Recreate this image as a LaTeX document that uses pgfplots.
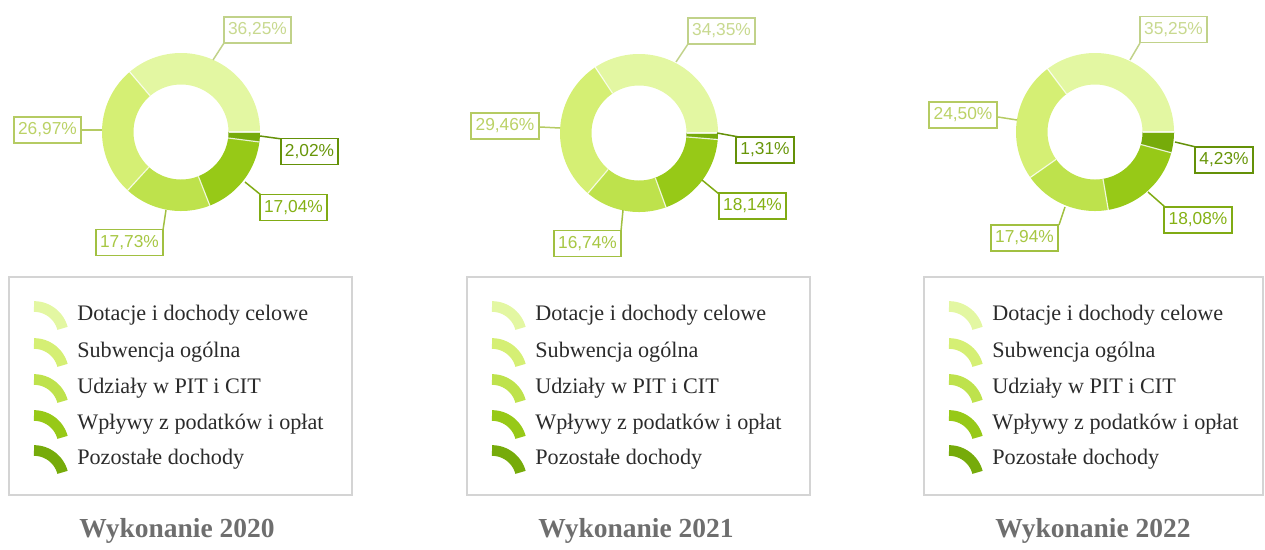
\documentclass[border=0pt]{standalone}
\usepackage{pgfplots}
\pgfplotsset{compat=1.18}
\usepackage{fontspec}
\setmainfont{Liberation Serif}
\newfontfamily\lblfont{Liberation Sans}
\definecolor{c1}{HTML}{E3F7A2}
\definecolor{c2}{HTML}{D5EF74}
\definecolor{c3}{HTML}{BEE24C}
\definecolor{c4}{HTML}{97C917}
\definecolor{c5}{HTML}{76AB0A}
\definecolor{legborder}{HTML}{D4D4D4}
\definecolor{legtext}{HTML}{2B2B2B}
\definecolor{titlecol}{HTML}{6E6E6E}

% one ring segment: cx, cy, start angle, end angle, colour
\newcommand{\seg}[5]{\edef\tmp{\noexpand\addplot[draw=#5, line width=18.9pt, line cap=butt, domain=#3:#4, samples=60, no markers, forget plot] ({#1+63.25*cos(x)},{#2-63.25*sin(x)});}\tmp}
\newcommand{\sepl}[3]{\edef\tmp{\noexpand\addplot[draw=white, line width=0.7pt, opacity=0.8, domain=47.5:79, samples=2, no markers, forget plot] ({#1+x*cos(#3)},{#2-x*sin(#3)});}\tmp}
% donut: cx, cy, then the five shares in percent
\newcommand{\donut}[7]{%
  \pgfmathsetmacro{\aA}{3.6*#3}%
  \pgfmathsetmacro{\aB}{\aA+3.6*#4}%
  \pgfmathsetmacro{\aC}{\aB+3.6*#5}%
  \pgfmathsetmacro{\aD}{\aC+3.6*#6}%
  \seg{#1}{#2}{0}{\aA}{c1}%
  \seg{#1}{#2}{\aA}{\aB}{c2}%
  \seg{#1}{#2}{\aB}{\aC}{c3}%
  \seg{#1}{#2}{\aC}{\aD}{c4}%
  \seg{#1}{#2}{\aD}{360}{c5}%
  \sepl{#1}{#2}{0}\sepl{#1}{#2}{\aA}\sepl{#1}{#2}{\aB}\sepl{#1}{#2}{\aC}\sepl{#1}{#2}{\aD}%
}
% legend icon: x of left end, y of text row, colour
\newcommand{\licon}[3]{\addplot[draw=#3, line width=6.4pt, line cap=butt, domain=15:90, samples=30, no markers, forget plot] ({#1+29.5*cos(x)},{#2+21-29.5*sin(x)});}
% legend block: left x of box, right x of box, icon x, text x
\newcommand{\legendblock}[4]{%
  \draw[legborder, line width=1.1pt] (axis cs:#1,277) rectangle (axis cs:#2,495);
  \licon{#3}{315}{c1}\licon{#3}{352}{c2}\licon{#3}{388}{c3}\licon{#3}{424}{c4}\licon{#3}{459}{c5}%
  \node[anchor=west, text=legtext, inner sep=0pt, font=\fontsize{13.3}{15}\selectfont] at (axis cs:#4,315) {Dotacje i dochody celowe};
  \node[anchor=west, text=legtext, inner sep=0pt, font=\fontsize{13.3}{15}\selectfont] at (axis cs:#4,352) {Subwencja ogólna};
  \node[anchor=west, text=legtext, inner sep=0pt, font=\fontsize{13.3}{15}\selectfont] at (axis cs:#4,388) {Udziały w PIT i CIT};
  \node[anchor=west, text=legtext, inner sep=0pt, font=\fontsize{13.3}{15}\selectfont] at (axis cs:#4,424) {Wpływy z podatków i opłat};
  \node[anchor=west, text=legtext, inner sep=0pt, font=\fontsize{13.3}{15}\selectfont] at (axis cs:#4,459) {Pozostałe dochody};
}
\tikzset{lbl/.style={draw=#1!85!black, text=#1!88!black, fill=white, line width=1.1pt, inner xsep=2.6pt, inner ysep=0pt, minimum height=15.6pt, font=\lblfont\fontsize{10.4}{12}\selectfont},
  ldr/.style={draw=#1!85!black, line width=0.9pt}}

\begin{document}
\begin{tikzpicture}
\begin{axis}[x=0.6pt, y=0.6pt, xmin=0, xmax=1265, ymin=0, ymax=544, y dir=reverse,
  hide axis, clip=false, scale only axis]
\path (axis cs:0,0) rectangle (axis cs:1265,544);
% ---- 2020 ----
\donut{181}{132}{36.25}{26.97}{17.73}{17.04}{2.02}
\draw[ldr=c1] (axis cs:213,60) -- (axis cs:224,43);
\node[lbl=c1] at (axis cs:257.5,30) {36,25\%};
\draw[ldr=c2] (axis cs:82,130) -- (axis cs:102,130);
\node[lbl=c2] at (axis cs:47.5,130) {26,97\%};
\draw[ldr=c5] (axis cs:260,136) -- (axis cs:282,139);
\node[lbl=c5] at (axis cs:309.5,151.5) {2,02\%};
\draw[ldr=c4] (axis cs:245,182) -- (axis cs:261,195);
\node[lbl=c4] at (axis cs:293.5,207.5) {17,04\%};
\draw[ldr=c3] (axis cs:166,210) -- (axis cs:163,230);
\node[lbl=c3] at (axis cs:129.5,242.5) {17,73\%};
\legendblock{9}{352}{34}{77}
\node[text=titlecol, font=\fontsize{16.5}{18}\selectfont\bfseries] at (axis cs:177,531) {Wykonanie 2020};
% ---- 2021 ----
\donut{639}{133}{34.35}{29.46}{16.74}{18.14}{1.31}
\draw[ldr=c1] (axis cs:676,62) -- (axis cs:688,44);
\node[lbl=c1] at (axis cs:721.5,31) {34,35\%};
\draw[ldr=c2] (axis cs:540,127) -- (axis cs:560,128);
\node[lbl=c2] at (axis cs:505,126) {29,46\%};
\draw[ldr=c5] (axis cs:717,133) -- (axis cs:739,137);
\node[lbl=c5] at (axis cs:765,150) {1,31\%};
\draw[ldr=c4] (axis cs:702,180) -- (axis cs:719,194);
\node[lbl=c4] at (axis cs:752.5,206) {18,14\%};
\draw[ldr=c3] (axis cs:623,210) -- (axis cs:621,231);
\node[lbl=c3] at (axis cs:587.5,243.5) {16,74\%};
\legendblock{467}{810}{492}{535}
\node[text=titlecol, font=\fontsize{16.5}{18}\selectfont\bfseries] at (axis cs:636,531) {Wykonanie 2021};
% ---- 2022 ----
\donut{1095}{132}{35.25}{24.50}{17.94}{18.08}{4.23}
\draw[ldr=c1] (axis cs:1130,60) -- (axis cs:1140,43);
\node[lbl=c1] at (axis cs:1173.5,29.5) {35,25\%};
\draw[ldr=c2] (axis cs:998,117) -- (axis cs:1017,120);
\node[lbl=c2] at (axis cs:963,115) {24,50\%};
\draw[ldr=c5] (axis cs:1175,142) -- (axis cs:1196,147);
\node[lbl=c5] at (axis cs:1224,160) {4,23\%};
\draw[ldr=c4] (axis cs:1148,192) -- (axis cs:1165,207);
\node[lbl=c4] at (axis cs:1198,220) {18,08\%};
\draw[ldr=c3] (axis cs:1065,207) -- (axis cs:1059,225);
\node[lbl=c3] at (axis cs:1024.5,238) {17,94\%};
\legendblock{924}{1263}{949}{992}
\node[text=titlecol, font=\fontsize{16.5}{18}\selectfont\bfseries] at (axis cs:1093,531) {Wykonanie 2022};
\end{axis}
\end{tikzpicture}
\end{document}
